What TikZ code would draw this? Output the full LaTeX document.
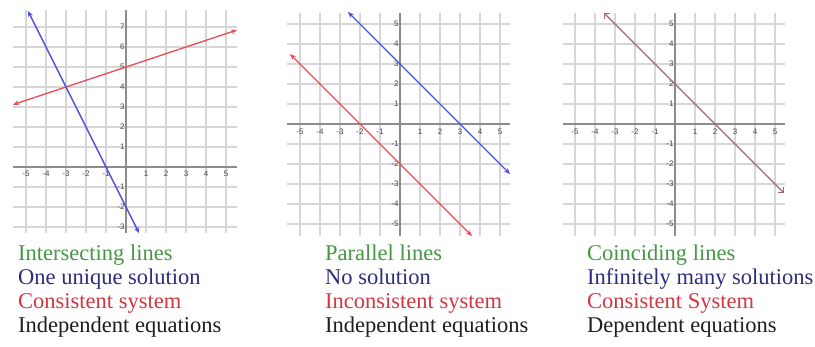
\documentclass[tikz,border=0pt]{standalone}
\usepackage{fontspec}
\setmainfont{Liberation Serif}
\newfontfamily\ticksf{Liberation Sans}
\usetikzlibrary{arrows.meta}
\definecolor{txtgreen}{RGB}{70,150,70}
\definecolor{txtblue}{RGB}{45,45,125}
\definecolor{txtred}{RGB}{210,55,65}
\definecolor{txtblack}{RGB}{30,30,30}
\definecolor{lnred}{RGB}{228,80,85}
\definecolor{lnblue}{RGB}{80,80,222}
\definecolor{lnbrown}{RGB}{165,100,110}
\definecolor{gridc}{RGB}{214,214,214}
\definecolor{axisc}{RGB}{140,140,140}
\definecolor{tickc}{RGB}{70,70,70}
\tikzset{
  gridline/.style={draw=gridc, line width=1.2pt},
  axisline/.style={draw=axisc, line width=1.1pt},
  ticklab/.style={text=tickc, font=\ticksf\fontsize{8}{9}\selectfont, inner sep=0.8pt},
  xlab/.style={ticklab, anchor=center},
  ylab/.style={ticklab, anchor=east},
  graphline/.style={line width=1.4pt, {Stealth[length=6pt,width=5pt]}-{Stealth[length=6pt,width=5pt]}},
  openline/.style={line width=1.1pt, {Straight Barb[length=4pt,width=8pt]}-{Straight Barb[length=4pt,width=8pt]}},
  caption/.style={anchor=base west, inner sep=0pt, font=\fontsize{22.5}{24}\selectfont}
}
\begin{document}
\begin{tikzpicture}[x=1pt,y=-1pt]
\useasboundingbox (0,0) rectangle (815,346);
\fill[white] (0,0) rectangle (815,346);
% ---------- Graph 1 ----------
\begin{scope}[shift={(126,167)}, x=20pt, y=20pt]
  \foreach \j in {-3,...,7} \draw[gridline] (-5.65,\j) -- (5.55,\j);
  \foreach \i in {-5,...,5} \draw[gridline] (\i,-3.3) -- (\i,7.85);
  \draw[axisline] (-5.65,0) -- (5.55,0);
  \draw[axisline] (0,-3.3) -- (0,7.85);
  \foreach \i in {-5,...,-1,1,2,...,5} \node[xlab] (g1x\i) at (\i,-0.35) {\i};
  \foreach \j in {-3,...,-1,1,2,...,7} \node[ylab] (g1y\j) at (-0.02,\j) {\j};
  \coordinate (g1ra) at (-5.65,3.117);
  \coordinate (g1rb) at (5.55,6.85);
  \coordinate (g1ba) at (-4.9,7.8);
  \coordinate (g1bb) at (0.65,-3.3);
  \draw[graphline, lnred] (g1ra) -- (g1rb);
  \draw[graphline, lnblue] (g1ba) -- (g1bb);
\end{scope}
% ---------- Graph 2 ----------
\begin{scope}[shift={(400,124)}, x=20pt, y=20pt]
  \foreach \j in {-5,...,5} \draw[gridline] (-5.65,\j) -- (5.5,\j);
  \foreach \i in {-5,...,5} \draw[gridline] (\i,-5.6) -- (\i,5.55);
  \draw[axisline] (-5.65,0) -- (5.5,0);
  \draw[axisline] (0,-5.6) -- (0,5.55);
  \foreach \i in {-5,...,-1,1,2,...,5} \node[xlab] (g2x\i) at (\i,-0.4) {\i};
  \foreach \j in {-5,...,-1,1,2,...,5} \node[ylab] (g2y\j) at (-0.02,\j) {\j};
  \coordinate (g2ba) at (-2.6,5.6);
  \coordinate (g2bb) at (5.5,-2.5);
  \coordinate (g2ra) at (-5.5,3.5);
  \coordinate (g2rb) at (3.6,-5.6);
  \draw[graphline, lnblue] (g2ba) -- (g2bb);
  \draw[graphline, lnred] (g2ra) -- (g2rb);
\end{scope}
% ---------- Graph 3 ----------
\begin{scope}[shift={(675,124)}, x=20pt, y=20pt]
  \foreach \j in {-5,...,5} \draw[gridline] (-5.6,\j) -- (5.5,\j);
  \foreach \i in {-5,...,5} \draw[gridline] (\i,-5.6) -- (\i,5.55);
  \draw[axisline] (-5.6,0) -- (5.5,0);
  \draw[axisline] (0,-5.6) -- (0,5.55);
  \foreach \i in {-5,...,-1,1,2,...,5} \node[xlab] (g3x\i) at (\i,-0.4) {\i};
  \foreach \j in {-5,...,-1,1,2,...,5} \node[ylab] (g3y\j) at (-0.02,\j) {\j};
  \coordinate (g3a) at (-3.55,5.55);
  \coordinate (g3b) at (5.45,-3.45);
  \draw[openline, lnbrown] (g3a) -- (g3b);
\end{scope}
% ---------- Captions ----------
\node[caption, text=txtgreen] (c1a) at (18,260) {Intersecting lines};
\node[caption, text=txtblue]  (c1b) at (18,284) {One unique solution};
\node[caption, text=txtred]   (c1c) at (18,308) {Consistent system};
\node[caption, text=txtblack] (c1d) at (18,332) {Independent equations};
\node[caption, text=txtgreen] (c2a) at (325,260) {Parallel lines};
\node[caption, text=txtblue]  (c2b) at (325,284) {No solution};
\node[caption, text=txtred]   (c2c) at (325,308) {Inconsistent system};
\node[caption, text=txtblack] (c2d) at (325,332) {Independent equations};
\node[caption, text=txtgreen] (c3a) at (587,260) {Coinciding lines};
\node[caption, text=txtblue]  (c3b) at (587,284) {Infinitely many solutions};
\node[caption, text=txtred]   (c3c) at (587,308) {Consistent System};
\node[caption, text=txtblack] (c3d) at (587,332) {Dependent equations};
\end{tikzpicture}
\end{document}
